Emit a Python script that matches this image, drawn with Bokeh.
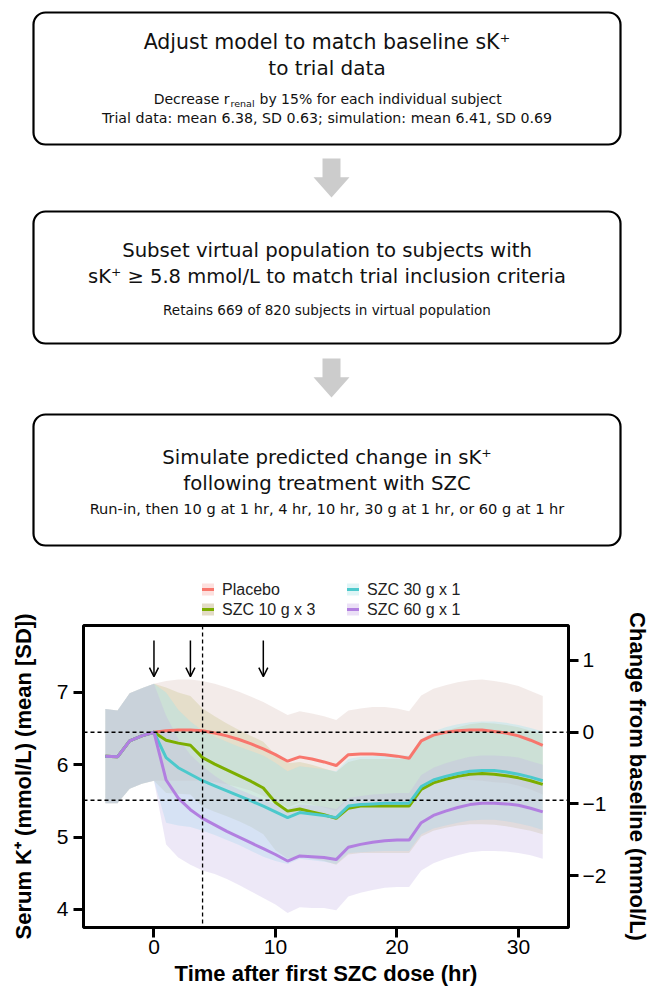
import numpy as np
from bokeh.plotting import figure
from bokeh.models import Range1d, LinearAxis, FixedTicker, Span, Arrow, OpenHead
from bokeh.layouts import column
from bokeh.embed import file_html
from bokeh.resources import INLINE
from bokeh.core.properties import value

# ---------------- data ----------------
hours = [-4, -3, -2, -1, 0, 1, 2, 3, 4, 5, 6, 7, 8, 9, 10, 11, 12, 13, 14, 15, 16,
         17, 18, 19, 20, 21, 22, 23, 24, 25, 26, 27, 28, 29, 30, 31, 32]

placebo_mean = [6.12, 6.11, 6.33, 6.40, 6.45, 6.47, 6.48, 6.48, 6.47, 6.44, 6.40, 6.35,
                6.29, 6.22, 6.14, 6.05, 6.11, 6.08, 6.04, 5.99, 6.14, 6.15, 6.15, 6.14,
                6.12, 6.09, 6.33, 6.41, 6.45, 6.47, 6.48, 6.48, 6.46, 6.44, 6.40, 6.34, 6.27]
placebo_sd = [0.65, 0.64, 0.66, 0.66, 0.67, 0.69, 0.70, 0.70, 0.69, 0.68, 0.67, 0.66,
              0.65, 0.65, 0.64, 0.64, 0.63, 0.63, 0.63, 0.63, 0.61, 0.63, 0.65, 0.66,
              0.66, 0.65, 0.63, 0.64, 0.65, 0.67, 0.69, 0.70, 0.70, 0.69, 0.69, 0.68, 0.68]

szc10_mean = [6.12, 6.11, 6.33, 6.40, 6.45, 6.34, 6.30, 6.27, 6.10, 6.01, 5.93, 5.85,
              5.77, 5.68, 5.48, 5.36, 5.39, 5.35, 5.31, 5.26, 5.40, 5.43, 5.43, 5.43,
              5.43, 5.43, 5.66, 5.75, 5.80, 5.84, 5.87, 5.88, 5.87, 5.85, 5.82, 5.78, 5.73]
szc10_sd = [0.65, 0.64, 0.66, 0.66, 0.67, 0.73, 0.70, 0.68, 0.68, 0.66, 0.64, 0.63,
            0.63, 0.64, 0.66, 0.66, 0.65, 0.65, 0.64, 0.64, 0.64, 0.65, 0.65, 0.65,
            0.65, 0.65, 0.65, 0.66, 0.67, 0.68, 0.69, 0.70, 0.70, 0.70, 0.70, 0.69, 0.69]

szc30_mean = [6.12, 6.11, 6.33, 6.40, 6.45, 6.10, 5.96, 5.87, 5.78, 5.71, 5.64, 5.57,
              5.50, 5.43, 5.35, 5.27, 5.34, 5.32, 5.30, 5.27, 5.43, 5.45, 5.46, 5.47,
              5.47, 5.47, 5.70, 5.79, 5.84, 5.88, 5.91, 5.92, 5.92, 5.90, 5.87, 5.83, 5.78]
szc30_sd = [0.65, 0.64, 0.66, 0.66, 0.67, 0.90, 0.80, 0.73, 0.69, 0.68, 0.68, 0.68,
            0.69, 0.70, 0.68, 0.64, 0.64, 0.64, 0.64, 0.64, 0.65, 0.66, 0.66, 0.66,
            0.66, 0.66, 0.66, 0.67, 0.68, 0.68, 0.68, 0.68, 0.68, 0.68, 0.68, 0.68, 0.68]

szc60_mean = [6.12, 6.11, 6.33, 6.40, 6.45, 5.79, 5.54, 5.38, 5.26, 5.17, 5.08, 5.00,
              4.92, 4.84, 4.76, 4.67, 4.74, 4.73, 4.72, 4.69, 4.86, 4.90, 4.93, 4.95,
              4.96, 4.96, 5.20, 5.30, 5.36, 5.41, 5.45, 5.47, 5.47, 5.46, 5.44, 5.40, 5.35]
szc60_sd = [0.65, 0.64, 0.66, 0.66, 0.67, 0.89, 0.82, 0.76, 0.72, 0.68, 0.66, 0.66,
            0.67, 0.68, 0.69, 0.72, 0.71, 0.71, 0.70, 0.70, 0.68, 0.67, 0.66, 0.65,
            0.65, 0.65, 0.66, 0.66, 0.66, 0.66, 0.66, 0.66, 0.66, 0.66, 0.66, 0.65, 0.65]

series_names = ["Placebo", "SZC 10 g x 3", "SZC 30 g x 1", "SZC 60 g x 1"]
line_colors = ["#F8766D", "#7CAE00", "#4CC9CC", "#B27FE0"]
band_colors = ["#D7BCB6", "#C8C085", "#93E5F3", "#C4B4E6"]
legend_patch_colors = ["#FDE0DE", "#E3DBC5", "#DFF5F6", "#EBE0F6"]

dose_times = [0, 3, 9]
baseline_level = 6.45
minus_one_level = 5.51
cutoff_time = 4

left_ticks = [4, 5, 6, 7]
right_ticks = [-2, -1, 0, 1]
x_ticks = [0, 10, 20, 30]

box_tops = [12, 211, 414]
box_bottoms = [144, 343, 545]
arrow_spans = [(158, 197), (358, 397)]

heading_lines = [
    ("Adjust model to match baseline sK\u207a", 41, "20.5px"),
    ("to trial data", 67, "20px"),
    ("Subset virtual population to subjects with", 250, "19.7px"),
    ("sK\u207a \u2265 5.8 mmol/L to match trial inclusion criteria", 276, "19.5px"),
    ("Simulate predicted change in sK\u207a", 457, "19.7px"),
    ("following treatment with SZC", 483, "19.7px"),
]
detail_lines = [
    ("Trial data: mean 6.38, SD 0.63; simulation: mean 6.41, SD 0.69", 117, "14.2px"),
    ("Retains 669 of 820 subjects in virtual population", 309, "13.5px"),
    ("Run-in, then 10 g at 1 hr, 4 hr, 10 hr, 30 g at 1 hr, or 60 g at 1 hr", 508, "14.6px"),
]

FLOW_FONT = "DejaVu Sans"
CHART_FONT = "Liberation Sans"

W = 653
TOP_H = 620     # flowchart + legend strip
OVERLAP = 30    # chart canvas starts this much above the end of the top figure
CHART_H = 990 - TOP_H + OVERLAP

# ---------------- flowchart (+ legend strip) ----------------
fc = figure(width=W, height=TOP_H, x_range=Range1d(0, W), y_range=Range1d(TOP_H, 0),
            toolbar_location=None, output_backend="svg", min_border=0,
            x_axis_location=None, y_axis_location=None)
fc.frame_align = False
fc.outline_line_color = None
fc.grid.visible = False
fc.background_fill_color = "white"

fc.quad(left=[33] * 3, right=[620] * 3, top=box_tops, bottom=box_bottoms,
        fill_color="white", line_color="black", line_width=2.2, border_radius=12)

cx = 331
xs, ys = [], []
for (a, b) in arrow_spans:
    neck = a + (b - a) * 0.48
    xs.append([cx - 9, cx + 9, cx + 9, cx + 18, cx, cx - 18, cx - 9])
    ys.append([a, a, neck, neck, b, neck, neck])
fc.patches(xs, ys, fill_color="#CCCCCC", line_color=None)

for txt, yy, fs in heading_lines + detail_lines:
    fc.text(x=[W / 2], y=[yy], text=[txt], text_align="center", text_baseline="middle",
            text_font=value(FLOW_FONT), text_font_size=value(fs), text_color="#111111")

# line with subscript r_renal
y_dec = 98
x_r_end = 229
fc.text(x=[x_r_end], y=[y_dec], text=["Decrease r"], text_align="right",
        text_baseline="middle", text_font=value(FLOW_FONT),
        text_font_size=value("14px"), text_color="#111111")
fc.text(x=[x_r_end + 1], y=[y_dec + 5], text=["renal"], text_align="left",
        text_baseline="middle", text_font=value(FLOW_FONT),
        text_font_size=value("9.5px"), text_color="#111111")
fc.text(x=[x_r_end + 30], y=[y_dec], text=["by 15% for each individual subject"],
        text_align="left", text_baseline="middle", text_font=value(FLOW_FONT),
        text_font_size=value("14px"), text_color="#111111")

# legend (two columns, two rows) drawn in the strip above the chart frame
leg_x = [207.5, 207.5, 352.5, 352.5]
leg_y = [589, 609, 589, 609]
fc.rect(x=leg_x, y=leg_y, width=12, height=12, fill_color=legend_patch_colors,
        line_color=None)
fc.segment(x0=[x - 6 for x in leg_x], y0=leg_y, x1=[x + 6 for x in leg_x], y1=leg_y,
           line_color=line_colors, line_width=3)
fc.text(x=[x + 14 for x in leg_x], y=leg_y, text=series_names, text_align="left",
        text_baseline="middle", text_font=value(CHART_FONT),
        text_font_size=value("16px"), text_color="#222222")

# ---------------- chart ----------------
p = figure(width=W, height=CHART_H, x_range=Range1d(-5.8, 34.12),
           y_range=Range1d(3.751, 7.926), toolbar_location=None, output_backend="svg",
           min_border_left=83, min_border_right=81, min_border_top=5 + OVERLAP,
           min_border_bottom=63)
p.frame_align = False
p.margin = (-OVERLAP, 0, 0, 0)
p.border_fill_alpha = 0
p.background_fill_color = "white"
p.extra_y_ranges = {"chg": Range1d(-2.725, 1.488)}
p.grid.visible = False
p.outline_line_color = "black"
p.outline_line_width = 3

means = [placebo_mean, szc10_mean, szc30_mean, szc60_mean]
sds = [placebo_sd, szc10_sd, szc30_sd, szc60_sd]

for m, s, c in zip(means, sds, band_colors):
    m = np.array(m)
    s = np.array(s)
    p.varea(x=hours, y1=m - s, y2=m + s, fill_color=c, fill_alpha=0.3)

for m, c in zip(means, line_colors):
    p.line(hours, m, line_color=c, line_width=3)

for lvl in [baseline_level, minus_one_level]:
    p.add_layout(Span(location=lvl, dimension="width", line_color="black",
                      line_width=1.3, line_dash="4 3"))
p.add_layout(Span(location=cutoff_time, dimension="height", line_color="black",
                  line_width=1.3, line_dash="4 3"))

for t in dose_times:
    p.add_layout(Arrow(x_start=t, y_start=7.72, x_end=t, y_end=7.22,
                       line_width=1.5, line_color="black",
                       end=OpenHead(size=9, line_width=1.5, line_color="black")))

# axes
right_axis = LinearAxis(y_range_name="chg")
p.add_layout(right_axis, "right")

for ax in [p.xaxis[0], p.yaxis[0], right_axis]:
    ax.axis_line_color = None
    ax.major_tick_line_width = 3
    ax.major_tick_line_color = "black"
    ax.major_tick_in = 0
    ax.major_tick_out = 10
    ax.minor_tick_line_color = None
    ax.major_label_text_font = CHART_FONT
    ax.major_label_text_font_size = "21px"
    ax.major_label_text_color = "black"
    ax.axis_label_text_font = CHART_FONT
    ax.axis_label_text_font_size = "22px"
    ax.axis_label_text_font_style = "bold"
    ax.axis_label_text_color = "black"

p.xaxis[0].ticker = FixedTicker(ticks=x_ticks)
p.yaxis[0].ticker = FixedTicker(ticks=left_ticks)
right_axis.ticker = FixedTicker(ticks=right_ticks)
right_axis.major_label_overrides = {-1: "\u22121", -2: "\u22122"}

p.xaxis[0].axis_label = "Time after first SZC dose (hr)"
p.yaxis[0].axis_label = "Serum K\u207a (mmol/L) (mean [SD])"
right_axis.axis_label = "Change from baseline (mmol/L)"

p.xaxis[0].major_label_standoff = 2
p.xaxis[0].axis_label_standoff = 4
p.yaxis[0].major_label_standoff = 5
p.yaxis[0].axis_label_standoff = 18
right_axis.major_label_standoff = 4
right_axis.axis_label_standoff = 16

layout = column(fc, p, spacing=0)
open("out.html", "w").write(file_html(layout, INLINE))
